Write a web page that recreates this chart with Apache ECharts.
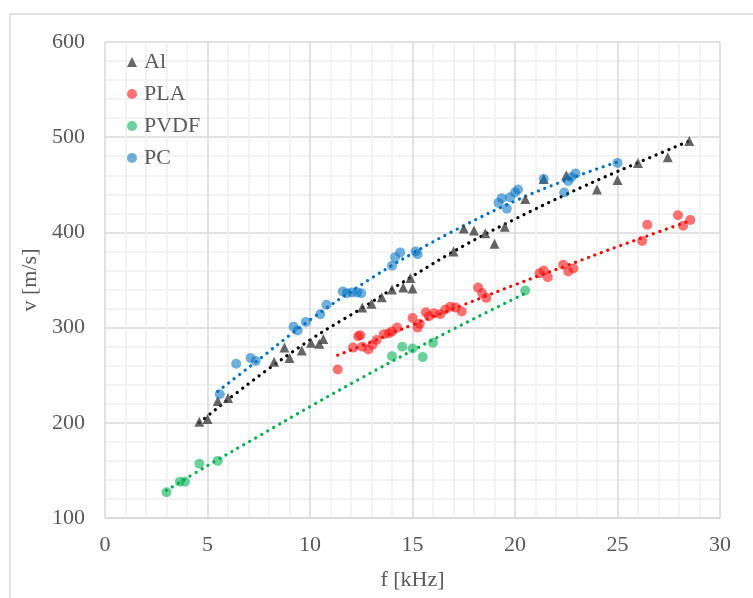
<!DOCTYPE html>
<html>
<head>
<meta charset="utf-8">
<script src="https://cdn.jsdelivr.net/npm/echarts@6/dist/echarts.min.js"></script>
<style>html,body{margin:0;padding:0;background:#fff;}#c{width:753px;height:598px;}</style>
</head>
<body>
<div id="c"></div>
<script>
// Measured data [f kHz, v m/s]
var alData = [[4.6,201],[5.0,204],[5.5,223],[6.0,226],[8.25,264],[8.75,279],[9.0,268],[9.6,276],[10.05,284],[10.45,283],[10.65,288],[12.55,321],[13.0,325],[13.5,332],[14.0,340],[14.55,342],[14.9,352],[15.0,341],[17.0,380],[17.5,404],[18.0,402],[18.55,399],[19.0,388],[19.5,406],[20.5,435],[21.4,456],[22.5,460],[24.0,445],[25.0,455],[26.0,473],[27.45,479],[28.5,496]];
var plaData = [[11.35,256],[12.1,279],[12.35,291],[12.45,292],[12.55,280],[12.85,277],[13.05,282],[13.25,287],[13.6,293],[13.85,294],[14.0,296],[14.25,300],[15.0,310],[15.25,300],[15.35,304],[15.65,316],[15.8,312],[16.05,315],[16.35,314],[16.6,319],[16.85,322],[17.1,321],[17.4,317],[18.2,342],[18.4,336],[18.6,331],[21.2,357],[21.4,360],[21.6,353],[22.35,366],[22.6,359],[22.85,362],[26.2,391],[26.45,408],[27.95,418],[28.2,407],[28.55,413]];
var pvdfData = [[3.0,127],[3.65,138],[3.9,138],[4.6,157],[5.5,160],[14.0,270],[14.5,280],[15.0,278],[15.5,269],[16.0,284],[20.5,339]];
var pcData = [[5.6,230],[6.4,262],[7.1,268],[7.35,265],[9.2,301],[9.4,297],[9.8,306],[10.5,314],[10.8,324],[11.6,338],[11.8,336],[12.05,337],[12.3,337],[12.5,336],[14.0,365],[14.15,374],[14.4,379],[15.15,380],[15.25,377],[19.2,431],[19.35,436],[19.6,425],[19.75,437],[20.0,442],[20.15,445],[21.4,456],[22.4,442],[22.6,454],[22.75,458],[22.95,462],[25.0,473]];
// Trendlines
var alTrend = [[4.6,200],[7,241],[10,287],[12.5,320],[15,354],[17.5,386],[20,414],[22.5,440],[25,464],[28.5,496]];
var plaTrend = [[11.35,271],[13,285],[15,303],[17.5,324],[20,345],[22.5,365],[25,385],[28.5,412]];
var pvdfTrend = [[3,129],[5,155],[7.5,186],[10,217],[12.5,247],[15,276],[17.5,304],[20.5,336]];
var pcTrend = [[5.5,233],[7,258],[10,308],[12.5,345],[15,378],[17.5,407],[20,433],[22.5,455],[25,474]];
var seriesNames = ['Al','PLA','PVDF','PC'];
var xTicks = {min:0, max:30, interval:5};
var yTicks = {min:100, max:600, interval:100};

var font = 'Liberation Serif, Times New Roman, serif';
var textColor = '#595959';
var chart = echarts.init(document.getElementById('c'), null, {renderer:'canvas'});
function trend(data, color){
  return {type:'line', data:data, smooth:0.4, showSymbol:false, symbol:'none', silent:true, z:3,
    lineStyle:{color:color, width:3.2, type:[0.1,6.8], cap:'round'}, legendHoverLink:false};
}
function scat(name, data, color, symbol, size){
  return {type:'scatter', name:name, data:data, symbol:symbol, symbolSize:size, z:4,
    itemStyle:{color:color}};
}
chart.setOption({
  animation:false,
  backgroundColor:'#fff',
  graphic:[{type:'rect', shape:{x:10, y:14, width:760, height:600}, style:{fill:'none', stroke:'#d9d9d9', lineWidth:1.5}, silent:true}],
  grid:{left:105, right:33, top:42, bottom:80, containLabel:false},
  legend:{
    data:[{name:'Al'},{name:'PLA'},{name:'PVDF'},{name:'PC'}],
    orient:'vertical', left:122, top:46, itemWidth:10, itemHeight:10, itemGap:10,
    textStyle:{fontFamily:font, fontSize:22, color:textColor, padding:[0,0,0,2]}
  },
  xAxis:{type:'value', min:xTicks.min, max:xTicks.max, interval:xTicks.interval,
    name:'f [kHz]', nameLocation:'middle', nameGap:51,
    nameTextStyle:{fontFamily:font, fontSize:22, color:textColor},
    axisLine:{show:true, lineStyle:{color:'#d9d9d9', width:1.5}}, axisTick:{show:false},
    axisLabel:{fontFamily:font, fontSize:22, color:textColor, margin:16},
    splitLine:{show:true, lineStyle:{color:'#d9d9d9', width:1.5}},
    minorTick:{show:false, splitNumber:5},
    minorSplitLine:{show:true, lineStyle:{color:'#efefef', width:1.5}}},
  yAxis:{type:'value', min:yTicks.min, max:yTicks.max, interval:yTicks.interval,
    name:'v [m/s]', nameLocation:'middle', nameGap:57, nameRotate:90,
    nameTextStyle:{fontFamily:font, fontSize:22, color:textColor},
    axisLine:{show:false}, axisTick:{show:false},
    axisLabel:{fontFamily:font, fontSize:22, color:textColor, margin:20},
    splitLine:{show:true, lineStyle:{color:'#d9d9d9', width:1.5}},
    minorTick:{show:false, splitNumber:5},
    minorSplitLine:{show:true, lineStyle:{color:'#efefef', width:1.5}}},
  series:[
    trend(alTrend,'#000000'),
    trend(plaTrend,'#ff0000'),
    trend(pvdfTrend,'#00b050'),
    trend(pcTrend,'#0070c0'),
    scat(seriesNames[0], alData, '#404040', 'triangle', 10),
    scat(seriesNames[1], plaData, 'rgba(255,20,20,0.75)', 'circle', 10),
    scat(seriesNames[2], pvdfData, 'rgba(0,176,80,0.72)', 'circle', 10),
    scat(seriesNames[3], pcData, 'rgba(0,112,192,0.7)', 'circle', 10)
  ]
});
</script>
</body>
</html>
